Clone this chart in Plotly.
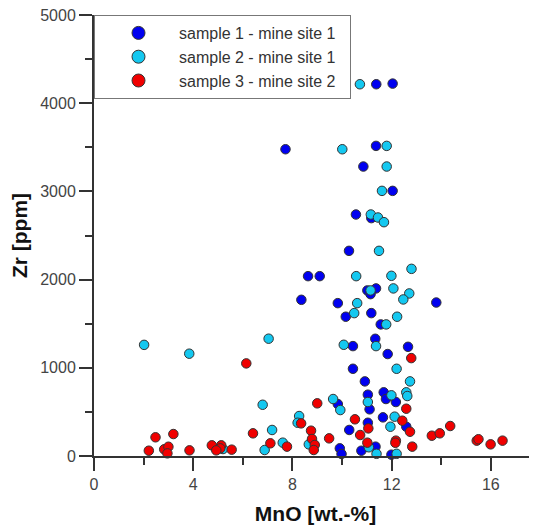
import plotly.graph_objects as go

# Sample 1 - mine site 1
s1_mno = [11.38, 12.04, 7.72, 11.37, 10.86, 12.04, 10.56, 11.18, 10.28, 8.63, 9.10, 11.37, 11.02, 11.15,
          8.36, 9.83, 13.80, 10.15, 11.18, 11.56, 11.34, 10.44, 12.66, 11.84, 10.44, 10.92, 11.04, 11.68,
          11.77, 12.17, 9.83, 11.11, 11.65, 12.59, 11.04, 10.29, 9.91, 9.98, 11.35, 10.78, 11.99]
s1_zr = [4215, 4222, 3478, 3516, 3282, 3006, 2738, 2697, 2326, 2039, 2039, 1900, 1877, 1835,
         1771, 1733, 1740, 1579, 1620, 1492, 1329, 1246, 1238, 1156, 989, 846, 695, 722,
         646, 612, 589, 529, 438, 332, 377, 295, 87, 23, 106, 60, 15]

# Sample 2 - mine site 1
s2_mno = [10.72, 10.01, 11.80, 11.80, 11.61, 11.16, 11.45, 11.69, 11.49, 12.80, 10.57, 11.99, 11.15, 12.07,
          12.71, 12.47, 10.61, 10.49, 12.22, 11.78, 7.04, 10.07, 11.37, 12.20, 12.74, 11.99, 12.59, 12.63,
          11.04, 9.64, 9.93, 8.27, 8.21, 12.12, 11.95, 7.18, 6.88, 7.61, 8.66, 11.08, 11.39, 12.20,
          2.02, 3.84, 6.80, 5.20]
s2_zr = [4215, 3478, 3516, 3282, 3006, 2738, 2704, 2651, 2326, 2122, 2039, 2043, 1877, 1900,
         1843, 1775, 1733, 1620, 1579, 1492, 1330, 1261, 1246, 989, 846, 688, 722, 680,
         612, 646, 521, 453, 377, 446, 332, 295, 68, 151, 132, 99, 25, 25,
         1260, 1160, 581, 79]

# Sample 3 - mine site 2
s3_mno = [12.79, 9.00, 12.59, 12.43, 12.74, 10.52, 8.35, 11.06, 10.73, 8.75, 8.79, 9.48, 7.11, 7.78,
          8.90, 8.86, 11.02, 12.17, 12.15, 12.83, 13.62, 13.94, 14.36, 15.43, 15.50, 15.99, 16.47,
          6.14, 6.41, 2.48, 3.20, 2.21, 2.83, 3.00, 2.96, 3.85, 4.75, 5.13, 5.09, 4.93, 5.55]
s3_zr = [1110, 597, 536, 400, 275, 416, 370, 313, 238, 287, 193, 200, 144, 106,
         125, 68, 151, 174, 150, 106, 230, 257, 340, 174, 190, 132, 174,
         1050, 257, 212, 249, 60, 76, 105, 30, 64, 121, 121, 87, 64, 72]

names = ["sample 1 - mine site 1", "sample 2 - mine site 1", "sample 3 - mine site 2"]
colors = ["#0000f0", "#14c8f0", "#f00000"]
x_ticks = [0, 4, 8, 12, 16]
y_ticks = [0, 1000, 2000, 3000, 4000, 5000]

fig = go.Figure()
series = [(s1_mno, s1_zr), (s2_mno, s2_zr), (s3_mno, s3_zr)]
for (xs, ys), c in zip(series, colors):
    fig.add_trace(go.Scatter(x=xs, y=ys, mode="markers", showlegend=False, cliponaxis=False,
                             marker=dict(size=9.5, color=c, line=dict(color="#333333", width=1))))
for n, c in zip(names, colors):
    fig.add_trace(go.Scatter(x=[None], y=[None], mode="markers", name=n + "\u00a0\u00a0",
                             marker=dict(size=13, color=c, line=dict(color="#333333", width=1))))

axis_common = dict(showgrid=False, zeroline=False, showline=True, linecolor="#333333", linewidth=2,
                   ticks="outside", ticklen=13, tickwidth=2, tickcolor="#333333",
                   ticklabeloverflow="allow",
                   tickfont=dict(family="Liberation Sans, Arial", size=16, color="#444444"),
                   minor=dict(ticks="outside", ticklen=7, tickwidth=2, tickcolor="#333333"))

fig.update_xaxes(range=[0, 17.86], tickvals=x_ticks, ticktext=[str(v) for v in x_ticks],
                 minor_dtick=2, minor_tick0=0,
                 title=dict(text="MnO [wt.-%]", font=dict(family="Liberation Sans, Arial", size=21, color="#111111",
                                                          weight="bold"),
                            standoff=14),
                 **axis_common)
fig.update_yaxes(range=[0, 5000], tickvals=y_ticks, ticktext=[str(v) for v in y_ticks],
                 minor_dtick=500, minor_tick0=0,
                 title=dict(text="Zr [ppm]", font=dict(family="Liberation Sans, Arial", size=21, color="#111111",
                                                       weight="bold"),
                            standoff=12),
                 **axis_common)

# the page body adds an 8px offset; the figure is sized to fill the rest of the window
fig.update_layout(
    width=529, height=519,
    margin=dict(l=86, r=0, t=7, b=71),
    plot_bgcolor="white", paper_bgcolor="white",
    font=dict(family="Liberation Sans, Arial"),
    legend=dict(x=0, y=1, xanchor="left", yanchor="top", bgcolor="white",
                bordercolor="#777777", borderwidth=1, indentation=3, itemwidth=71,
                font=dict(family="Liberation Sans, Arial", size=16, color="#333333")),
)

fig.write_html("out.html")
